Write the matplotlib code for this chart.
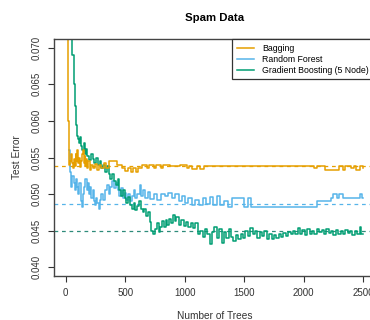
import matplotlib.pyplot as plt
from matplotlib.ticker import FormatStrFormatter

plt.rcParams['font.family'] = ['Liberation Sans', 'DejaVu Sans']

# Bagging test error (step breakpoints: number of trees, error)
bag_trees = [10, 18, 22, 26, 30, 38, 45, 52, 60, 68, 75, 82, 90, 98, 105, 112, 120, 128,
             135, 142, 150, 158, 165, 172, 180, 190, 200, 215, 230, 245, 260, 280, 300, 320,
             340, 360, 400, 430, 470, 500, 520, 545, 565, 590, 610, 640, 680, 700, 740, 760,
             800, 820, 880, 960, 1020, 1040, 1060, 1100, 1130, 1160, 2090, 2110, 2180, 2300,
             2330, 2350, 2400, 2420, 2440, 2470, 2500]
bag_err = [0.0720, 0.0675, 0.0600, 0.0560, 0.0540, 0.0545, 0.0555, 0.0543, 0.0535, 0.0548,
           0.0538, 0.0555, 0.0545, 0.0560, 0.0542, 0.0550, 0.0537, 0.0545, 0.0555, 0.0560,
           0.0543, 0.0552, 0.0538, 0.0548, 0.0535, 0.0545, 0.0533, 0.0540, 0.0535, 0.0541,
           0.0533, 0.0540, 0.0536, 0.0542, 0.0536, 0.0545, 0.0545, 0.0540, 0.0536, 0.0532,
           0.0536, 0.0530, 0.0536, 0.0530, 0.0535, 0.0540, 0.0536, 0.0540, 0.0536, 0.0540,
           0.0536, 0.0540, 0.0538, 0.0540, 0.0535, 0.0538, 0.0534, 0.0538, 0.0534, 0.0539,
           0.0535, 0.0539, 0.0533, 0.0539, 0.0533, 0.0539, 0.0535, 0.0539, 0.0533, 0.0539,
           0.0536]

# Random forest
rf_trees = [30, 35, 45, 55, 65, 75, 85, 95, 105, 115, 125, 135, 145, 155, 165, 175, 185,
            195, 205, 215, 225, 235, 245, 255, 265, 275, 285, 300, 315, 330, 345, 360, 375,
            390, 405, 420, 435, 450, 465, 480, 495, 510, 525, 540, 555, 570, 585, 600, 620,
            630, 650, 670, 690, 710, 740, 770, 800, 830, 860, 890, 920, 950, 975, 1000, 1030,
            1060, 1090, 1120, 1150, 1180, 1210, 1240, 1270, 1300, 1330, 1360, 1400, 1500,
            1530, 1555, 2110, 2230, 2250, 2280, 2300, 2330, 2470, 2490, 2500]
rf_err = [0.0560, 0.0530, 0.0510, 0.0525, 0.0515, 0.0505, 0.0520, 0.0510, 0.0500, 0.0515,
          0.0490, 0.0483, 0.0500, 0.0510, 0.0520, 0.0505, 0.0515, 0.0500, 0.0510, 0.0495,
          0.0505, 0.0490, 0.0485, 0.0495, 0.0488, 0.0480, 0.0492, 0.0500, 0.0492, 0.0505,
          0.0512, 0.0500, 0.0510, 0.0518, 0.0508, 0.0515, 0.0505, 0.0498, 0.0508, 0.0495,
          0.0502, 0.0492, 0.0500, 0.0490, 0.0498, 0.0505, 0.0495, 0.0500, 0.0512, 0.0498,
          0.0505, 0.0495, 0.0503, 0.0493, 0.0500, 0.0492, 0.0500, 0.0497, 0.0502, 0.0495,
          0.0500, 0.0490, 0.0497, 0.0488, 0.0495, 0.0485, 0.0492, 0.0485, 0.0495, 0.0487,
          0.0496, 0.0485, 0.0497, 0.0485, 0.0490, 0.0482, 0.0494, 0.0482, 0.0494, 0.0482,
          0.0490, 0.0495, 0.0500, 0.0495, 0.0500, 0.0495, 0.0500, 0.0495, 0.0495]

# Gradient boosting, 5 nodes
gb_trees = [40, 55, 65, 70, 78, 85, 92, 100, 110, 120, 130, 140, 150, 160, 170, 180, 195,
            210, 225, 240, 255, 270, 285, 300, 315, 330, 345, 360, 375, 390, 405, 420, 435,
            450, 465, 480, 495, 510, 525, 540, 555, 570, 585, 600, 615, 630, 645, 660, 675,
            690, 705, 720, 735, 750, 765, 780, 795, 810, 825, 840, 855, 870, 885, 900, 915,
            930, 950, 970, 990, 1010, 1030, 1050, 1070, 1090, 1110, 1130, 1150, 1170, 1190,
            1210, 1230, 1250, 1270, 1290, 1310, 1330, 1350, 1370, 1390, 1410, 1430, 1450,
            1470, 1490, 1510, 1530, 1550, 1570, 1590, 1610, 1630, 1650, 1670, 1690, 1710,
            1730, 1750, 1770, 1790, 1810, 1830, 1850, 1870, 1890, 1910, 1930, 1950, 1970,
            1990, 2010, 2030, 2050, 2070, 2090, 2110, 2130, 2150, 2170, 2190, 2210, 2230,
            2250, 2270, 2290, 2310, 2330, 2350, 2370, 2390, 2410, 2430, 2450, 2470, 2485,
            2500]
gb_err = [0.0720, 0.0690, 0.0675, 0.0650, 0.0620, 0.0595, 0.0580, 0.0575, 0.0570, 0.0578,
          0.0566, 0.0560, 0.0570, 0.0555, 0.0562, 0.0552, 0.0546, 0.0555, 0.0548, 0.0543,
          0.0550, 0.0540, 0.0545, 0.0535, 0.0540, 0.0530, 0.0538, 0.0527, 0.0520, 0.0528,
          0.0518, 0.0512, 0.0520, 0.0505, 0.0498, 0.0505, 0.0494, 0.0488, 0.0496, 0.0485,
          0.0480, 0.0488, 0.0478, 0.0484, 0.0490, 0.0480, 0.0475, 0.0480, 0.0470, 0.0475,
          0.0462, 0.0450, 0.0445, 0.0452, 0.0460, 0.0448, 0.0455, 0.0463, 0.0455, 0.0465,
          0.0458, 0.0466, 0.0460, 0.0472, 0.0463, 0.0468, 0.0458, 0.0465, 0.0456, 0.0462,
          0.0455, 0.0460, 0.0453, 0.0461, 0.0446, 0.0450, 0.0442, 0.0452, 0.0445, 0.0432,
          0.0448, 0.0455, 0.0440, 0.0452, 0.0433, 0.0448, 0.0440, 0.0452, 0.0442, 0.0436,
          0.0444, 0.0438, 0.0446, 0.0440, 0.0450, 0.0443, 0.0453, 0.0445, 0.0450, 0.0440,
          0.0448, 0.0443, 0.0450, 0.0438, 0.0445, 0.0438, 0.0444, 0.0440, 0.0446, 0.0442,
          0.0447, 0.0443, 0.0448, 0.0445, 0.0450, 0.0446, 0.0453, 0.0446, 0.0451, 0.0444,
          0.0452, 0.0446, 0.0450, 0.0445, 0.0452, 0.0448, 0.0451, 0.0445, 0.0452, 0.0447,
          0.0450, 0.0444, 0.0451, 0.0446, 0.0450, 0.0445, 0.0451, 0.0447, 0.0450, 0.0444,
          0.0450, 0.0445, 0.0455, 0.0446, 0.0446]

# reference levels drawn as dashed lines
bag_level = 0.0539
rf_level = 0.0487
gb_level = 0.0449

labels = ["Bagging", "Random Forest", "Gradient Boosting (5 Node)"]
c_bag = "#E69F00"
c_rf = "#56B4E9"
c_gb = "#009E73"

fig = plt.figure(figsize=(3.7, 3.2), dpi=100)
ax = fig.add_axes([0.146, 0.1375, 0.8676, 0.7406])

ax.axhline(bag_level, color=c_bag, lw=0.9, ls=(0, (3, 3)))
ax.axhline(rf_level, color=c_rf, lw=0.9, ls=(0, (3, 3)))
ax.axhline(gb_level, color="#2e8b7a", lw=0.9, ls=(0, (3, 3)))

ax.plot(rf_trees, rf_err, color=c_rf, lw=1.1, drawstyle="steps-post", label=labels[1])
ax.plot(gb_trees, gb_err, color=c_gb, lw=1.1, drawstyle="steps-post", label=labels[2])
ax.plot(bag_trees, bag_err, color=c_bag, lw=1.1, drawstyle="steps-post", label=labels[0])

ax.set_xlim(-99, 2600)
ax.set_ylim(0.0388, 0.0712)
ax.set_xticks([0, 500, 1000, 1500, 2000, 2500])
ax.set_yticks([0.040, 0.045, 0.050, 0.055, 0.060, 0.065, 0.070])
ax.yaxis.set_major_formatter(FormatStrFormatter('%.3f'))
ax.tick_params(labelsize=7, length=4, width=0.8, colors="#333333", pad=5)
for lab in ax.get_yticklabels():
    lab.set_rotation(90)
    lab.set_va("center")
for s in ax.spines.values():
    s.set_color("#444444")
    s.set_linewidth(1.0)

ax.set_title("Spam Data", fontsize=8.2, fontweight="bold", pad=13)
ax.set_xlabel("Number of Trees", fontsize=7.3, labelpad=9, color="#333333")
ax.set_ylabel("Test Error", fontsize=7.3, labelpad=7, color="#333333")

h, l = ax.get_legend_handles_labels()
order = [2, 0, 1]
leg = ax.legend([h[i] for i in order], [l[i] for i in order], loc="upper left",
                bbox_to_anchor=(0.5545, 1.0), borderaxespad=0, fontsize=6.3,
                frameon=True, fancybox=False, framealpha=1, edgecolor="#333333",
                handlelength=2.0, handletextpad=0.9, labelspacing=0.22, borderpad=0.55)
leg.get_frame().set_linewidth(0.9)

fig.savefig("out.png", dpi=100)
